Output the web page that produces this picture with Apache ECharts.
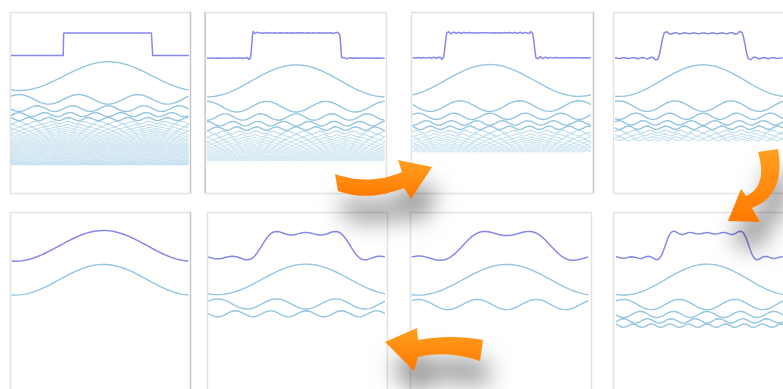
<!DOCTYPE html>
<html><head><meta charset="utf-8">
<script src="https://cdn.jsdelivr.net/npm/echarts@6/dist/echarts.min.js"></script>
<style>html,body{margin:0;padding:0;background:#fff}#c{width:783px;height:389px}</style>
</head><body><div id="c"></div>
<script>
// ---------- data ----------
// number of odd harmonics (1,3,5,...) shown in each snapshot
const panelTerms = [63, 24, 16, 9, 1, 3, 2, 5];
// snapshot 1 shows the ideal square wave instead of the partial sum
const panelIdeal = [true, false, false, false, false, false, false, false];
// where the centre of the square-wave "high" part sits, as a fraction of one period
const panelPhase = [0.546, 0.501, 0.432, 0.525, 0.519, 0.553, 0.538, 0.545];
// vertical stacking (in units of the fundamental's amplitude)
const firstOffset = 2.21;
const stackSpacing = 1.21;

// ---------- layout ----------
const curveLeft = [11, 207, 412.7, 615, 11.7, 208.3, 411.7, 616];
const curveWidth = [178, 178, 178.3, 178, 176.6, 176.7, 176.6, 177];
const rowTop = [12, 12, 12, 12, 212, 212, 212, 212];
const gridH = 181;
const unitPx = [14.4, 16.0, 15.9, 15.8, 15.7, 15.6, 15.7, 15.8];
const midPx = [44.3, 45.5, 45.3, 45.7, 246.6, 246.4, 246.6, 246.2];
const boxes = [[10,12,180,181],[205,12,181,181],[411,12,182,181],[613,12,182,181],
               [10,212,180,181],[207,212,180,181],[410,212,181,181],[613,212,182,181]];
const PURPLE = '#8888ea', BLUE = '#96c6df';

const grids = [], xAxes = [], yAxes = [], series = [];
for (let p = 0; p < 8; p++) {
  grids.push({left: curveLeft[p], top: rowTop[p], width: curveWidth[p], height: gridH, show: false});
  const t0 = Math.PI / 2 - 2 * Math.PI * panelPhase[p];
  const t1 = t0 + 2 * Math.PI;
  xAxes.push({type: 'value', gridIndex: p, min: t0, max: t1, show: false});
  const ymax = (midPx[p] - rowTop[p]) / unitPx[p];
  yAxes.push({type: 'value', gridIndex: p, max: ymax, min: ymax - gridH / unitPx[p], show: false});

  const nT = panelTerms[p];
  const ks = [];
  for (let i = 0; i < nT; i++) ks.push(2 * i + 1);
  const M = nT > 20 ? 1800 : 600;
  const ts = [];
  for (let i = 0; i <= M; i++) ts.push(t0 + (t1 - t0) * i / M);

  let off = firstOffset;
  ks.forEach((k, idx) => {
    if (idx > 0) off += stackSpacing * (1 / ks[idx - 1] + 1 / k);
    const o = off;
    const d = ts.map(t => [t, -o + Math.sin(k * t) / k]);
    const op = k <= 9 ? 1 : Math.max(0.17, 2.4 / Math.sqrt(k) - 0.08);
    series.push({type: 'line', xAxisIndex: p, yAxisIndex: p, data: d, showSymbol: false,
      silent: true, animation: false, z: 2,
      lineStyle: {color: BLUE, width: k <= 9 ? 1.4 : 1.1, opacity: op}});
  });

  let sum;
  if (panelIdeal[p]) {
    sum = [];
    let prev = null;
    ts.forEach(t => {
      const v = Math.sin(t) >= 0 ? Math.PI / 4 : -Math.PI / 4;
      if (prev !== null && v !== prev) {
        const tc = Math.round(t / Math.PI) * Math.PI;
        sum.push([tc, prev]); sum.push([tc, v]);
      }
      sum.push([t, v]); prev = v;
    });
  } else {
    sum = ts.map(t => { let s = 0; ks.forEach(k => { s += Math.sin(k * t) / k; }); return [t, s]; });
  }
  series.push({type: 'line', xAxisIndex: p, yAxisIndex: p, data: sum, showSymbol: false,
    silent: true, animation: false, z: 3, lineStyle: {color: PURPLE, width: 1.5}});
}

// ---------- decorations: frames and arrows ----------
const graphic = [];
boxes.forEach(b => {
  graphic.push({type: 'rect', silent: true, z: 1,
    shape: {x: b[0] + 0.5, y: b[1] + 0.5, width: b[2], height: b[3]},
    style: {fill: null, stroke: '#e3e3e3', lineWidth: 1.5}});
});
[[190.5, 12, 190.5, 193], [205, 12, 205, 193], [593.5, 12, 593.5, 193], [190.5, 212, 190.5, 389]].forEach(l => {
  graphic.push({type: 'line', silent: true, z: 1, shape: {x1: l[0], y1: l[1], x2: l[2], y2: l[3]},
    style: {stroke: '#c4c4c4', lineWidth: 1.2}});
});
function pathToPoints(str) {
  const tok = str.match(/[MLQZ]|-?\d+(\.\d+)?/g);
  const pts = []; let i = 0, cmd = null, cur = [0, 0];
  while (i < tok.length) {
    if (/[MLQZ]/.test(tok[i])) { cmd = tok[i++]; if (cmd === 'Z') continue; }
    if (cmd === 'M' || cmd === 'L') { cur = [+tok[i], +tok[i + 1]]; i += 2; pts.push(cur); }
    else if (cmd === 'Q') {
      const c = [+tok[i], +tok[i + 1]], e = [+tok[i + 2], +tok[i + 3]]; i += 4;
      for (let s = 1; s <= 16; s++) {
        const u = s / 16, a = (1 - u) * (1 - u), b = 2 * u * (1 - u), d = u * u;
        pts.push([a * cur[0] + b * c[0] + d * e[0], a * cur[1] + b * c[1] + d * e[1]]);
      }
      cur = e;
    } else i++;
  }
  return pts;
}
const arrowStyle = {
  fill: {type: 'linear', x: 0, y: 0, x2: 0, y2: 1, colorStops: [{offset: 0, color: '#ffa020'}, {offset: 1, color: '#ff7800'}]},
  shadowBlur: 24, shadowColor: 'rgba(0,0,0,0.5)', shadowOffsetX: 6, shadowOffsetY: 24};
const arrows = [
  'M335,174 Q370,186 402,172 L398,160 L432,167 L411,199 L404,188 Q368,202 338,191 Z',
  'M758,152 L778,149 Q786,195 752,208 L760,222 L728,221 L741,189 L746,196 Q768,186 758,152 Z',
  'M483,340 L480,361 Q447,350 418,357 L414,371 L385,342 L417,328 L418,340 Q452,334 483,340 Z'
];
arrows.forEach(d => graphic.push({type: 'polygon', silent: true, z: 10, shape: {points: pathToPoints(d)}, style: arrowStyle}));

const chart = echarts.init(document.getElementById('c'), null, {renderer: 'canvas'});
chart.setOption({animation: false, grid: grids, xAxis: xAxes, yAxis: yAxes, series: series, graphic: graphic});
</script></body></html>
